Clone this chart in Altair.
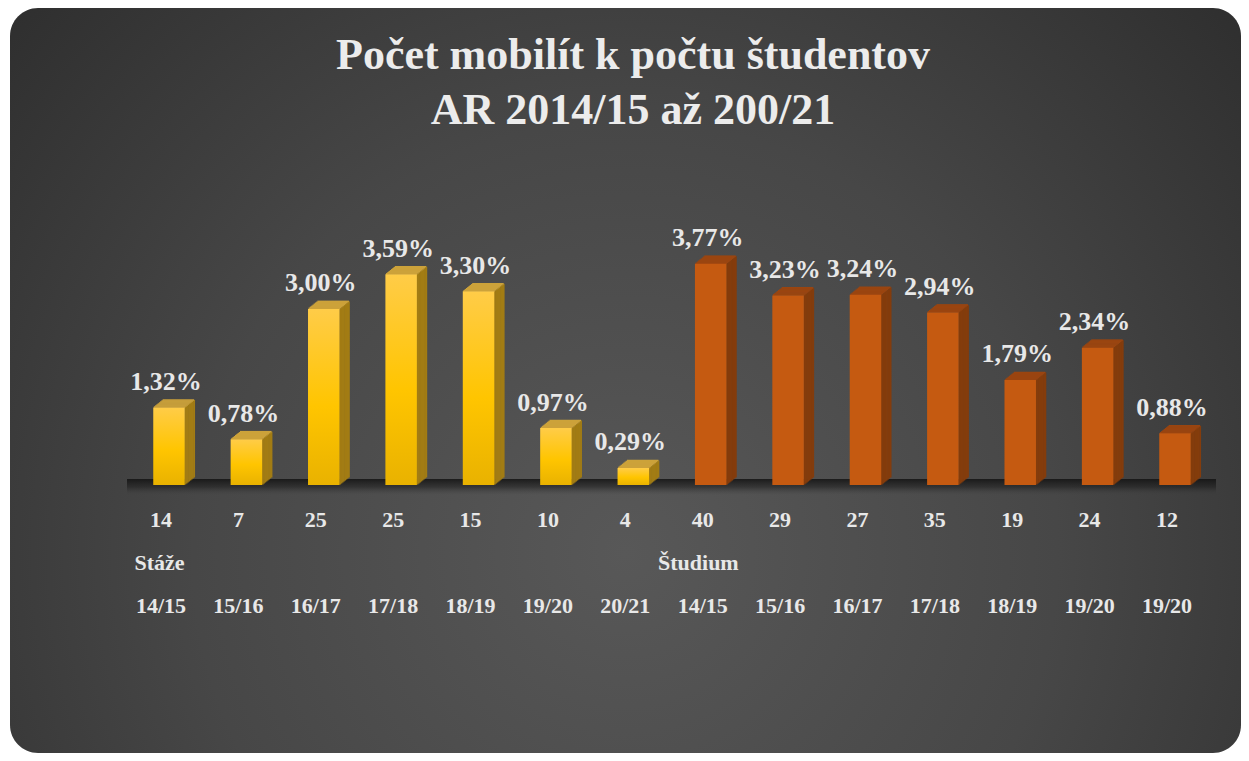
import altair as alt
import pandas as pd

# ---- data ----
YEARS = ["14/15", "15/16", "16/17", "17/18", "18/19", "19/20", "20/21",
         "14/15", "15/16", "16/17", "17/18", "18/19", "19/20", "19/20"]
COUNTS = [14, 7, 25, 25, 15, 10, 4, 40, 29, 27, 35, 19, 24, 12]
SHARE = [1.32, 0.78, 3.00, 3.59, 3.30, 0.97, 0.29,
         3.77, 3.23, 3.24, 2.94, 1.79, 2.34, 0.88]
GROUPS = ["Stáže"] * 7 + ["Študium"] * 7
TITLE_LINES = ["Počet mobilít k počtu študentov", "AR 2014/15 až 200/21"]

df = pd.DataFrame({
    "i": list(range(len(SHARE))),
    "v": SHARE,
    "n": COUNTS,
    "y": YEARS,
    "g": GROUPS,
})
first_stage = int(GROUPS.index("Stáže"))
first_study = int(GROUPS.index("Študium"))

W, H = 1233, 745
FONT = "Liberation Serif"
TXT = "#E8E8E8"

X = alt.X("i:O", scale=alt.Scale(type="point", range=[161, 1167], padding=0), axis=None)
Y = alt.Y("v:Q", scale=alt.Scale(domain=[0, 4], range=[477, 242.2]), axis=None)
Y0 = alt.Y2("z:Q")
YV2 = alt.Y2("v:Q")

is_y = alt.datum.g == "Stáže"
not_y = alt.datum.g != "Stáže"

yellow_front = {"gradient": "linear", "x1": 0, "y1": 0, "x2": 0, "y2": 1,
                "stops": [{"offset": 0, "color": "#FFCC48"},
                          {"offset": 0.55, "color": "#FFC500"},
                          {"offset": 1, "color": "#E9B200"}]}
orange_front = "#C55A11"
SIDE_Y, SIDE_O = "#A27C14", "#843C0C"
TOP_Y, TOP_O = "#CCA23A", "#9A4510"

FRONT_W = 31.5      # front face width (px)
DEPTH_X, DEPTH_Y = 10.0, 8.0
N_STRIP = 8

one = pd.DataFrame({"k": [0]})

panel = alt.Chart(one).mark_rect(
    cornerRadius=28,
    color={"gradient": "radial", "x1": 0.5, "y1": 0.64, "r1": 0,
           "x2": 0.5, "y2": 0.64, "r2": 0.78,
           "stops": [{"offset": 0, "color": "#585858"},
                     {"offset": 0.45, "color": "#474747"},
                     {"offset": 1, "color": "#262626"}]},
).encode(x=alt.value(2), x2=alt.value(W), y=alt.value(0), y2=alt.value(H))

floor = alt.Chart(one).mark_rect(
    color={"gradient": "linear", "x1": 0, "y1": 0, "x2": 0, "y2": 1,
           "stops": [{"offset": 0, "color": "rgba(18,18,18,0.85)"},
                     {"offset": 0.5, "color": "rgba(25,25,25,0.5)"},
                     {"offset": 1, "color": "rgba(60,60,60,0)"}]},
).encode(x=alt.value(119), x2=alt.value(1208), y=alt.value(471), y2=alt.value(487))

base = alt.Chart(df).transform_calculate(z="0")

side_color = alt.condition(is_y, alt.value(SIDE_Y), alt.value(SIDE_O))
top_color = alt.condition(is_y, alt.value(TOP_Y), alt.value(TOP_O))

# 3D side face: thin vertical strips, each lifted a little more (parallelogram)
sx = DEPTH_X / N_STRIP
sy = DEPTH_Y / N_STRIP
side_layers = []
for k in range(N_STRIP):
    u = (k + 0.5)
    side_layers.append(
        base.mark_bar(width=sx + 0.6, xOffset=FRONT_W / 2 + u * sx,
                      yOffset=-u * sy, y2Offset=-u * sy).encode(
            x=X, y=Y, y2=Y0, color=side_color))

# 3D top face: thin horizontal strips, each shifted a little more to the right
top_layers = []
for k in range(N_STRIP):
    top_layers.append(
        base.mark_bar(width=FRONT_W, xOffset=(k + 0.5) * sx,
                      yOffset=-(k + 1) * sy - 0.3, y2Offset=-k * sy + 0.3).encode(
            x=X, y=Y, y2=YV2, color=top_color))

front_y = base.transform_filter(is_y).mark_bar(width=FRONT_W, color=yellow_front).encode(
    x=X, y=Y, y2=Y0)
front_o = base.transform_filter(not_y).mark_bar(width=FRONT_W, color=orange_front).encode(
    x=X, y=Y, y2=Y0)

value_labels = base.transform_calculate(
    lab="replace(format(datum.v, '.2f'), '.', ',') + '%'"
).mark_text(font=FONT, fontSize=26, fontWeight="bold", color=TXT,
            baseline="alphabetic", dy=-17.5, dx=-3).encode(x=X, y=Y, text="lab:N")

count_labels = base.mark_text(font=FONT, fontSize=22, fontWeight="bold", color=TXT,
                              baseline="alphabetic", dx=-8).encode(
    x=X, y=alt.value(519), text="n:Q")

year_labels = base.mark_text(font=FONT, fontSize=22, fontWeight="bold", color=TXT,
                             baseline="alphabetic", dx=-8).encode(
    x=X, y=alt.value(605), text="y:N")

grp_stage = base.transform_filter(alt.datum.i == first_stage).mark_text(
    font=FONT, fontSize=22, fontWeight="bold", color=TXT, baseline="alphabetic",
    align="left", dx=-34.5).encode(x=X, y=alt.value(562), text="g:N")

grp_study = base.transform_filter(alt.datum.i == first_study).mark_text(
    font=FONT, fontSize=22, fontWeight="bold", color=TXT, baseline="alphabetic",
    align="left", dx=-52.7).encode(x=X, y=alt.value(562), text="g:N")

title1 = alt.Chart(pd.DataFrame({"t": [TITLE_LINES[0]]})).mark_text(
    font=FONT, fontSize=44, fontWeight="bold", color="#ECECEC", baseline="alphabetic",
    align="center").encode(x=alt.value(625), y=alt.value(61), text="t:N")

title2 = alt.Chart(pd.DataFrame({"t": [TITLE_LINES[1]]})).mark_text(
    font=FONT, fontSize=44, fontWeight="bold", color="#ECECEC", baseline="alphabetic",
    align="center").encode(x=alt.value(625), y=alt.value(116), text="t:N")

chart = alt.layer(
    panel, floor, *side_layers, *top_layers, front_y, front_o,
    value_labels, count_labels, year_labels, grp_stage, grp_study, title1, title2,
).properties(
    width=W, height=H, padding=0, autosize=alt.AutoSizeParams(type="none"),
    background="white",
).configure_view(strokeWidth=0)

chart.save("out.html", embed_options={"renderer": "svg", "actions": False})
